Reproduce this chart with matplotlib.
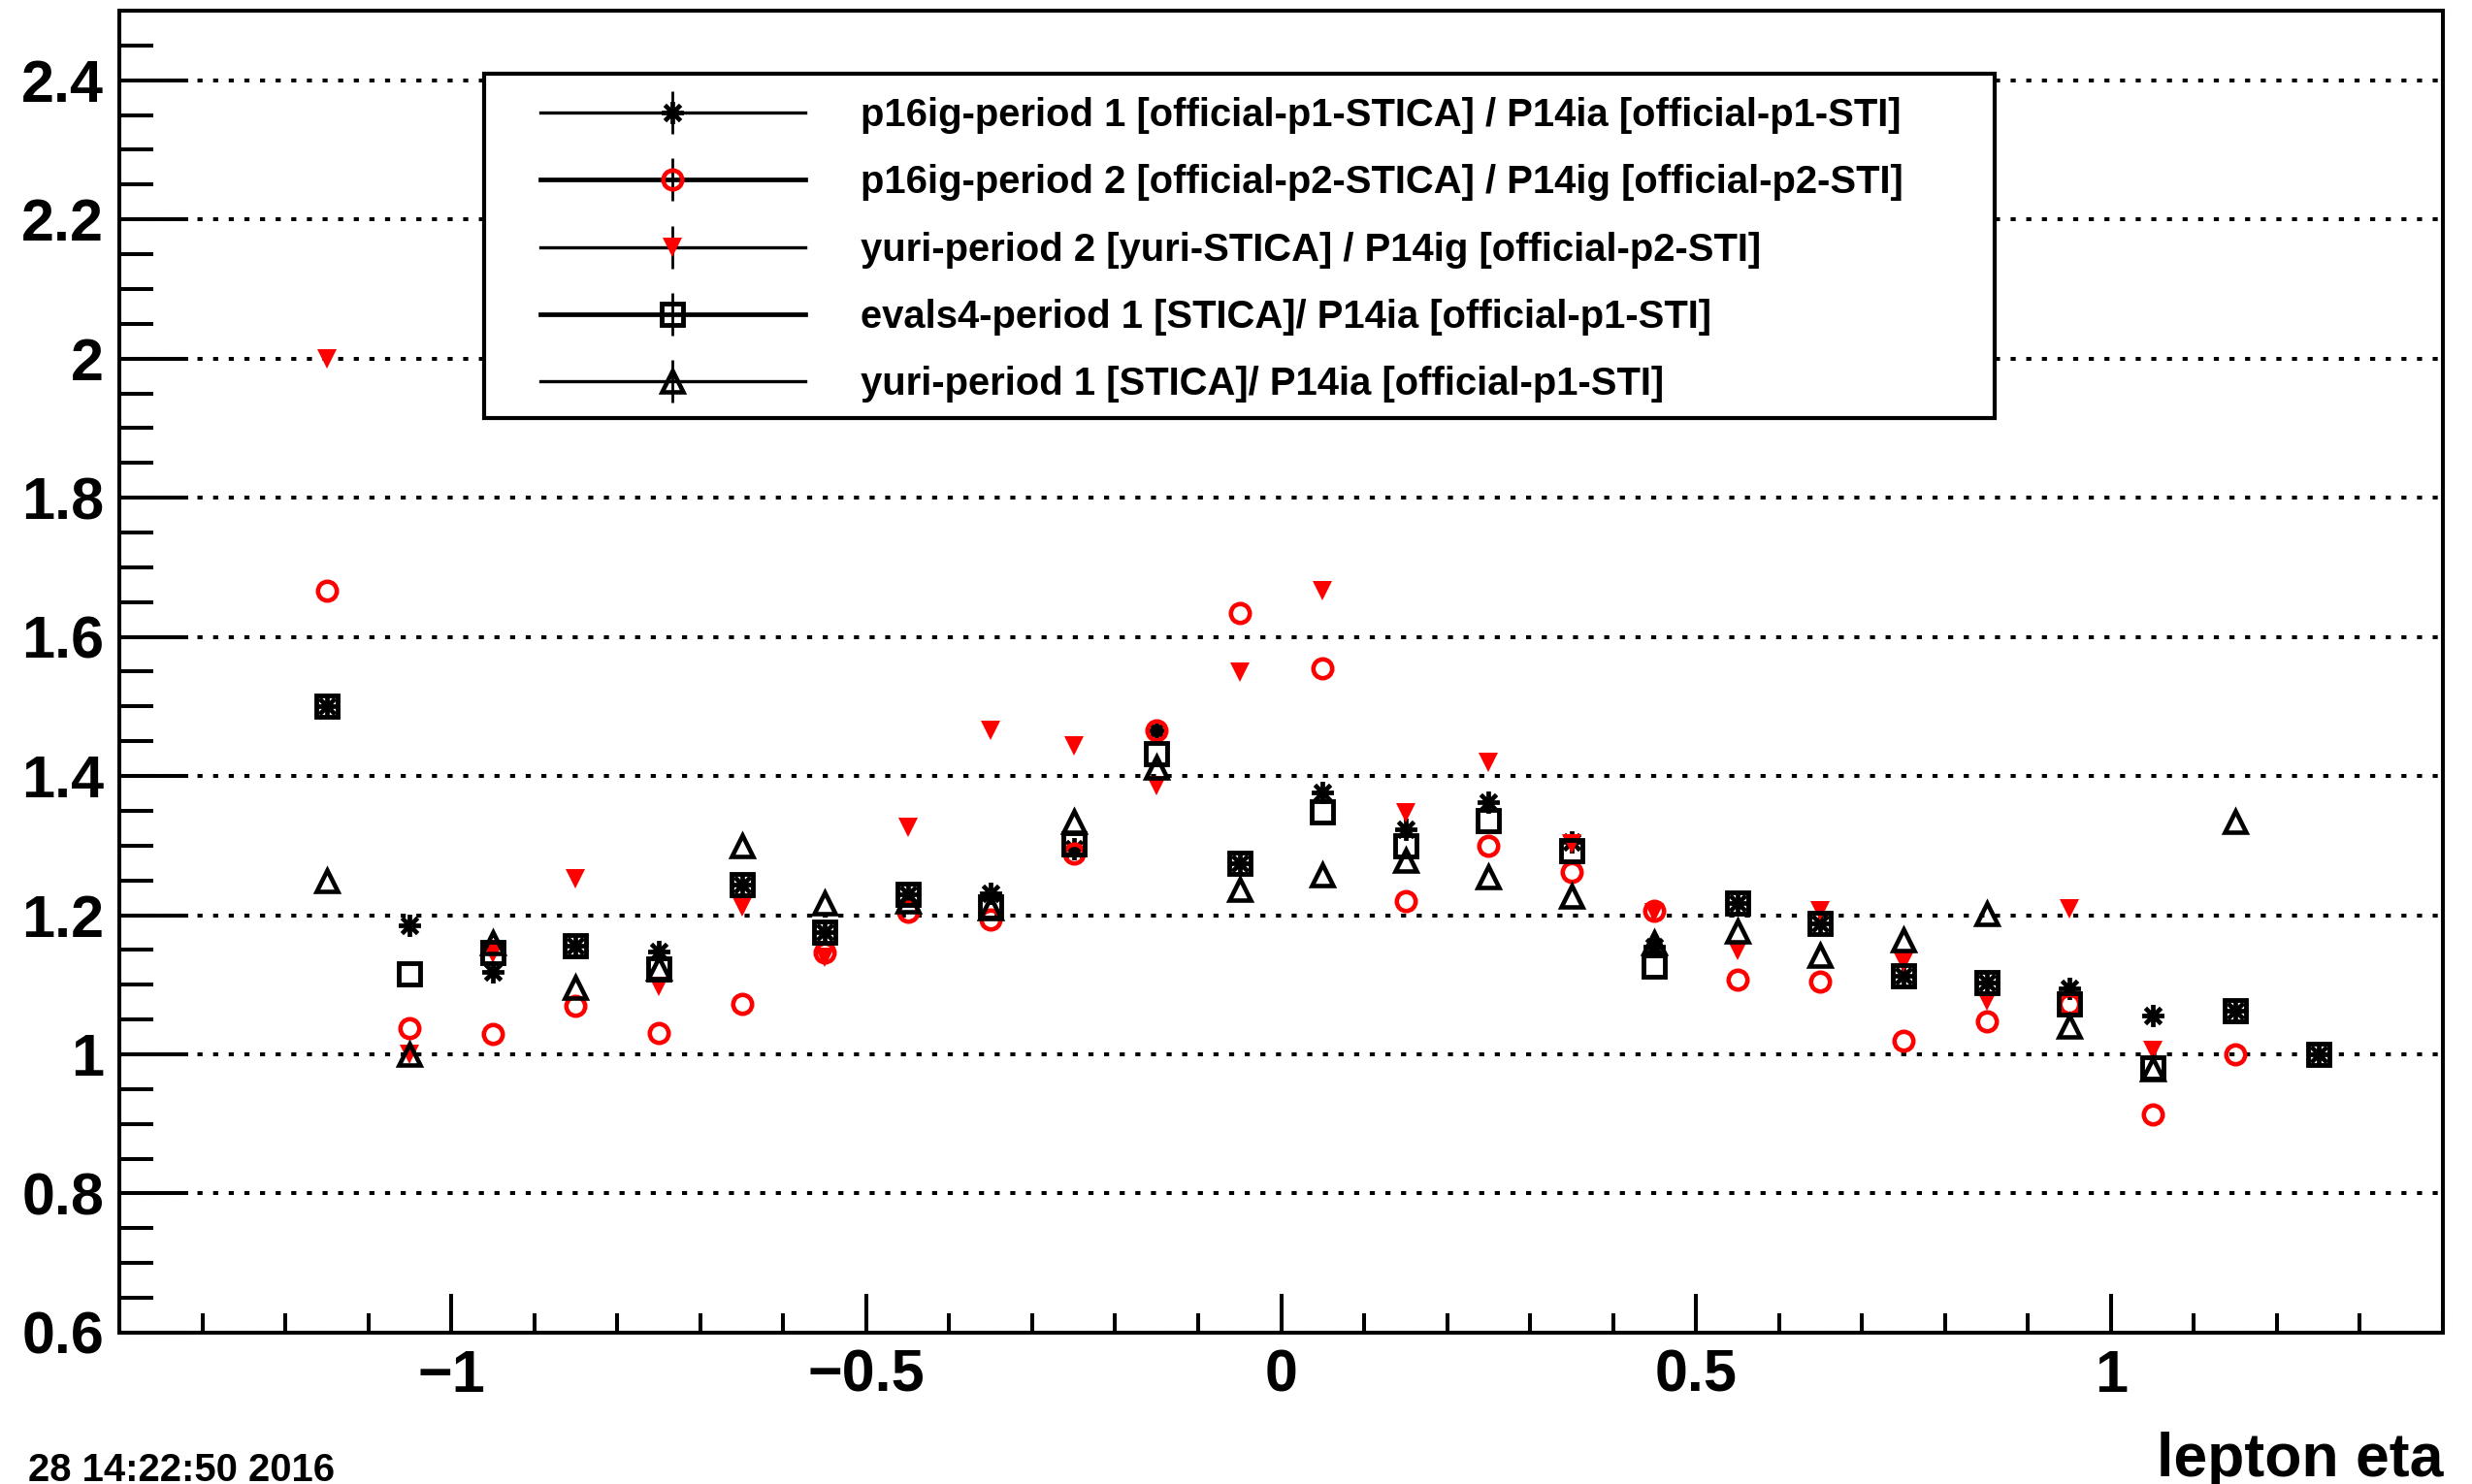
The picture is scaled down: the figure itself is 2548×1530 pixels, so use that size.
import matplotlib
matplotlib.use('Agg')
import matplotlib.pyplot as plt
import numpy as np
from matplotlib.path import Path
from matplotlib.ticker import MultipleLocator, FuncFormatter
from matplotlib.lines import Line2D
from matplotlib.patches import Rectangle

plt.rcParams['font.family'] = ['Liberation Sans', 'DejaVu Sans']
plt.rcParams['font.weight'] = 'bold'

nan = np.nan
eta = [-1.15, -1.05, -0.95, -0.85, -0.75, -0.65, -0.55, -0.45, -0.35, -0.25,
       -0.15, -0.05, 0.05, 0.15, 0.25, 0.35, 0.45, 0.55, 0.65, 0.75,
       0.85, 0.95, 1.05, 1.15, 1.25]

p16ig_p1 = [1.500, 1.186, 1.118, 1.156, 1.148, 1.244, 1.175, 1.230, 1.232, 1.296,
            1.466, 1.274, 1.376, 1.323, 1.362, 1.305, 1.155, 1.218, 1.188, 1.113,
            1.103, 1.095, 1.056, 1.063, 1.000]
p16ig_p2 = [1.667, 1.038, 1.029, 1.070, 1.030, 1.073, 1.146, 1.205, 1.194, 1.289,
            1.466, 1.634, 1.555, 1.220, 1.300, 1.262, 1.207, 1.107, 1.105, 1.019,
            1.047, 1.072, 0.914, 1.000, nan]
yuri_p2 = [2.000, 1.000, 1.145, 1.252, 1.098, 1.212, 1.140, 1.326, 1.466, 1.443,
           1.386, 1.549, 1.666, 1.347, 1.420, 1.303, 1.204, 1.149, 1.207, 1.133,
           1.077, 1.209, 1.005, nan, nan]
evals4_p1 = [1.500, 1.116, 1.146, 1.156, 1.123, 1.244, 1.176, 1.230, 1.212, 1.303,
             1.432, 1.274, 1.349, 1.300, 1.336, 1.293, 1.127, 1.218, 1.188, 1.113,
             1.103, 1.073, 0.981, 1.063, 1.000]
yuri_p1 = [1.250, 1.000, 1.161, 1.096, 1.124, 1.300, 1.217, 1.220, 1.210, 1.334,
           1.413, 1.237, 1.258, 1.279, 1.255, 1.227, 1.160, 1.177, 1.142, 1.165,
           1.202, 1.040, 0.979, 1.335, nan]

labels = ["p16ig-period 1 [official-p1-STICA] / P14ia [official-p1-STI]",
          "p16ig-period 2 [official-p2-STICA] / P14ig [official-p2-STI]",
          "yuri-period 2 [yuri-STICA] / P14ig [official-p2-STI]",
          "evals4-period 1 [STICA]/ P14ia [official-p1-STI]",
          "yuri-period 1 [STICA]/ P14ia [official-p1-STI]"]

star_path = Path([(-1, 0), (1, 0), (0, -1), (0, 1),
                  (-0.707, -0.707), (0.707, 0.707), (-0.707, 0.707), (0.707, -0.707)],
                 [Path.MOVETO, Path.LINETO] * 4)

styles = [
    dict(marker=star_path, markersize=16.5, markerfacecolor='none', markeredgecolor='black', markeredgewidth=3.4),
    dict(marker='o', markersize=14, markerfacecolor='none', markeredgecolor='red', markeredgewidth=3.3),
    dict(marker='v', markersize=15, markerfacecolor='red', markeredgecolor='red', markeredgewidth=0),
    dict(marker='s', markersize=15.5, markerfacecolor='none', markeredgecolor='black', markeredgewidth=3.5),
    dict(marker='^', markersize=15.5, markerfacecolor='none', markeredgecolor='black', markeredgewidth=3.3),
]
legend_lw = [2.4, 3.4, 2.4, 3.4, 2.4]
series = [p16ig_p1, p16ig_p2, yuri_p2, evals4_p1, yuri_p1]

fig = plt.figure(figsize=(25.48, 15.30), dpi=100)
ax = fig.add_axes([0.0483, 0.1020, 0.9399, 0.8908])

for i, (y, st) in enumerate(zip(series, styles)):
    ax.plot(eta, y, linestyle='none', zorder=3 + i, **st)

ax.set_xlim(-1.4, 1.4)
ax.set_ylim(0.6, 2.5)
ax.xaxis.set_major_locator(MultipleLocator(0.5))
ax.xaxis.set_minor_locator(MultipleLocator(0.1))
ax.yaxis.set_major_locator(MultipleLocator(0.2))
ax.yaxis.set_minor_locator(MultipleLocator(0.05))
ax.xaxis.set_major_formatter(FuncFormatter(lambda v, p: ('%g' % round(v, 3)).replace('-', '\u2212')))
ax.yaxis.set_major_formatter(FuncFormatter(lambda v, p: '%g' % round(v, 3)))

ax.tick_params(axis='both', which='both', direction='in', width=2.9, top=False, right=False)
ax.tick_params(axis='y', which='major', length=51, pad=11.5, labelsize=44)
ax.tick_params(axis='y', which='minor', length=25)
ax.tick_params(axis='x', which='major', length=28.8, pad=12, labelsize=44)
ax.tick_params(axis='x', which='minor', length=14.4)
for sp in ax.spines.values():
    sp.set_linewidth(2.9)

ax.yaxis.grid(True, which='major', color='black', linewidth=2.9, linestyle=(0, (1.3, 2.7)))
ax.set_axisbelow(True)

ax.set_xlabel('lepton eta', fontsize=45, fontweight='bold', ha='right', va='baseline')
ax.xaxis.set_label_coords(1.0, -0.1086)

fig.text(29 / 2548, 1 - 1527 / 1530, '28 14:22:50 2016', ha='left', va='baseline',
         fontsize=28.8, fontweight='bold')

# legend frame
ax.add_patch(Rectangle((0.157, 0.692), 0.650, 0.260, transform=ax.transAxes,
                       facecolor='white', edgecolor='black', linewidth=3.0, zorder=20))

handles = []
for st, lw in zip(styles, legend_lw):
    h_line = Line2D([], [], color='black', linewidth=lw)
    h_bar = Line2D([], [], linestyle='none', marker='|', markersize=31, markeredgewidth=2.0, color='black')
    h_mark = Line2D([], [], linestyle='none', **st)
    handles.append((h_line, h_bar, h_mark))

F = 28.8
f = F * 100 / 72
leg = ax.legend(handles, labels, loc='center left', bbox_to_anchor=(0.1811, 0.8191),
                frameon=False, numpoints=1, borderpad=0, borderaxespad=0,
                handlelength=273 / f, handletextpad=57 / f, labelspacing=0.78,
                prop={'weight': 'bold', 'size': F})
leg.set_zorder(21)

fig.savefig('out.png', dpi=100)
